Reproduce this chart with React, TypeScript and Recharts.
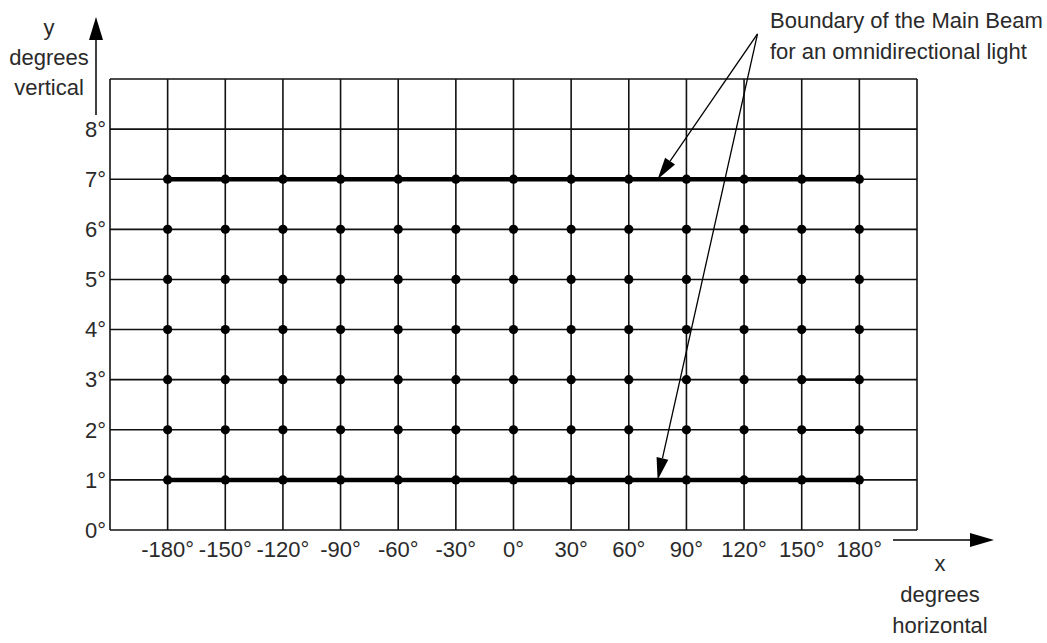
import { LineChart, Line, Scatter, XAxis, YAxis, CartesianGrid, ReferenceLine } from "recharts";

// grid + tick values (degrees)
const xTicks = [-210, -180, -150, -120, -90, -60, -30, 0, 30, 60, 90, 120, 150, 180, 210];
const yTicks = [0, 1, 2, 3, 4, 5, 6, 7, 8, 9];

// measurement points
const beamAngles = [-180, -150, -120, -90, -60, -30, 0, 30, 60, 90, 120, 150, 180];
const elevations = [1, 2, 3, 4, 5, 6, 7];

// main beam boundary (upper / lower)
const upperBoundary = 7;
const lowerBoundary = 1;

// short connecting segments on the right
const partialSegments = [
    { y: 3, from: 150, to: 180, width: 2.4 },
    { y: 2, from: 150, to: 180, width: 1.8 },
];

// callout arrows: from the label down to the two boundary lines
const calloutStart = { x: 127, y: 9.9 };
const calloutTargets = [{ x: 75, y: 7 }, { x: 75, y: 1 }];

const FONT = "'Liberation Sans', Arial, sans-serif";
const TEXT = "#2a2a2a";
const FS = 22;

const points = elevations.flatMap((e) => beamAngles.map((a) => ({ x: a, y: e })));
const upperData = beamAngles.map((a) => ({ x: a, y: upperBoundary }));
const lowerData = beamAngles.map((a) => ({ x: a, y: lowerBoundary }));

const ArrowShape = (props: any) => {
    const { x1, y1, x2, y2 } = props;
    if (x1 == null || x2 == null) return null;
    const ang = Math.atan2(y2 - y1, x2 - x1);
    const len = 22;
    const half = 6;
    const c = Math.cos(ang), s = Math.sin(ang);
    const bx = x2 - len * c, by = y2 - len * s;
    const pts = `${x2},${y2} ${bx - half * s},${by + half * c} ${bx + half * s},${by - half * c}`;
    return (
        <g>
            <line x1={x1} y1={y1} x2={bx} y2={by} stroke="#000" strokeWidth={1.3} />
            <polygon points={pts} fill="#000" />
        </g>
    );
};

export default function App() {
    return (
        <div style={{ position: "absolute", left: 0, top: 0, width: 1047, height: 643, background: "#fff", fontFamily: FONT }}>
            <LineChart width={1047} height={643} margin={{ top: 79, right: 130, bottom: 83, left: 50 }}>
                <CartesianGrid stroke="#111" strokeWidth={1.6} />
                <XAxis
                    type="number"
                    dataKey="x"
                    domain={[-210, 210]}
                    ticks={xTicks}
                    interval={0}
                    height={30}
                    axisLine={false}
                    tickLine={false}
                    tickSize={6}
                    tickMargin={5}
                    tickFormatter={(v) => (Math.abs(v) === 210 ? "" : `${v}°`)}
                    tick={{ fontSize: FS, fill: TEXT, fontFamily: FONT }}
                />
                <YAxis
                    type="number"
                    dataKey="y"
                    domain={[0, 9]}
                    ticks={yTicks}
                    interval={0}
                    width={60}
                    axisLine={false}
                    tickLine={false}
                    tickSize={2}
                    tickMargin={2}
                    tickFormatter={(v) => (v === 9 ? "" : `${v}°`)}
                    tick={{ fontSize: FS, fill: TEXT, fontFamily: FONT }}
                />
                <Line data={upperData} dataKey="y" stroke="#000" strokeWidth={4.5} dot={false} isAnimationActive={false} />
                <Line data={lowerData} dataKey="y" stroke="#000" strokeWidth={4.5} dot={false} isAnimationActive={false} />
                {partialSegments.map((seg, i) => (
                    <Line
                        key={`seg-${i}`}
                        data={[{ x: seg.from, y: seg.y }, { x: seg.to, y: seg.y }]}
                        dataKey="y"
                        stroke="#000"
                        strokeWidth={seg.width}
                        dot={false}
                        isAnimationActive={false}
                    />
                ))}
                <Scatter data={points} fill="#000" shape={(p: any) => <circle cx={p.cx} cy={p.cy} r={4.6} fill="#000" />} isAnimationActive={false} />
                {calloutTargets.map((t, i) => (
                    <ReferenceLine
                        key={`call-${i}`}
                        segment={[calloutStart, t]}
                        ifOverflow="visible"
                        shape={ArrowShape}
                    />
                ))}
            </LineChart>

            {/* axis arrows + titles */}
            <svg width={1047} height={643} style={{ position: "absolute", left: 0, top: 0, pointerEvents: "none" }}>
                <line x1={96} y1={115} x2={96} y2={38} stroke="#000" strokeWidth={1.5} />
                <polygon points="96,17 89,40 103,40" fill="#000" />
                <line x1={893} y1={540} x2={972} y2={540} stroke="#000" strokeWidth={1.5} />
                <polygon points="994,540 970,533 970,547" fill="#000" />
            </svg>
            <div style={{ position: "absolute", left: 0, top: 13, width: 98, textAlign: "center", fontSize: FS, lineHeight: "30px", color: TEXT }}>
                y<br />degrees<br />vertical
            </div>
            <div style={{ position: "absolute", left: 880, top: 548, width: 120, textAlign: "center", fontSize: FS, lineHeight: "31px", color: TEXT }}>
                x<br />degrees<br />horizontal
            </div>
            <div style={{ position: "absolute", left: 770, top: 5, fontSize: FS, lineHeight: "31px", color: TEXT, whiteSpace: "nowrap" }}>
                Boundary of the Main Beam<br />for an omnidirectional light
            </div>
        </div>
    );
}
